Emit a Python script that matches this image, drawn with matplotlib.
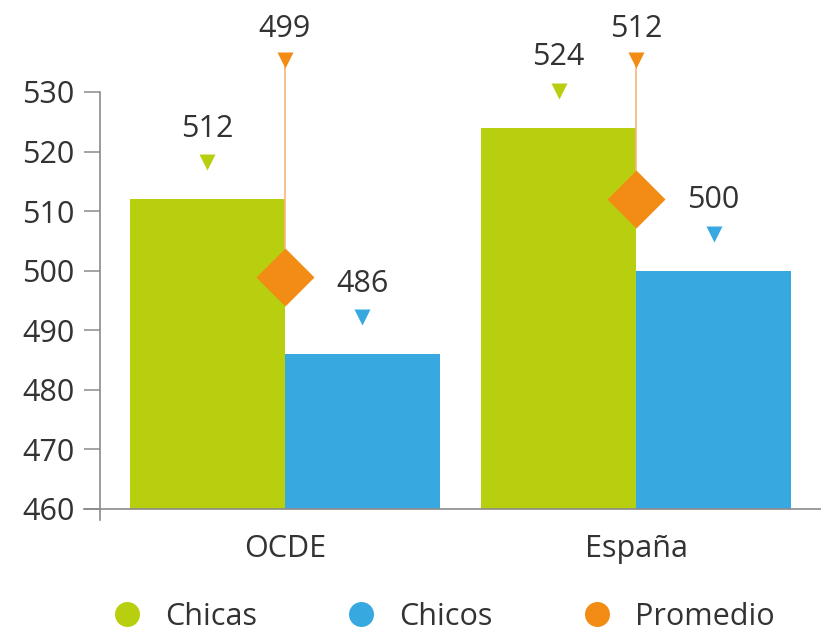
'''
Rendimiento por sexo: barras Chicas / Chicos con marcador de Promedio,
OCDE frente a España.
'''

# -----------------------------------------------------------------------------
# Modules

from matplotlib import pyplot as plt
from matplotlib.lines import Line2D

# -----------------------------------------------------------------------------
# Data

grupos = ['OCDE', 'España']
chicas = [512, 524]
chicos = [486, 500]
promedio = [499, 512]

etiquetas_chicas = ['512', '524']
etiquetas_chicos = ['486', '500']
etiquetas_promedio = ['499', '512']

y_ticks = [460, 470, 480, 490, 500, 510, 520, 530]

# -----------------------------------------------------------------------------

verde = '#b8cf10'
azul = '#37a9e0'
naranja = '#f28c14'
linea_naranja = '#f6b57c'
texto = '#333333'
gris = '#8a8a8a'

plt.rcParams['font.family'] = ['Open Sans', 'DejaVu Sans']
fs = 22

figure = plt.figure(figsize=(8.21, 6.33), dpi=100)
ax = figure.add_axes([100 / 821, 113 / 633, 721 / 821, 520 / 633])

ancho = 0.4416
x = list(range(len(grupos)))
x_chicas = [i - ancho / 2 for i in x]
x_chicos = [i + ancho / 2 for i in x]

ax.bar(x_chicas, [v - 460 for v in chicas], ancho, bottom=460, color=verde,
       zorder=2)
ax.bar(x_chicos, [v - 460 for v in chicos], ancho, bottom=460, color=azul,
       zorder=2)

tri_top = 535.3
ax.vlines(x, promedio, tri_top, color=linea_naranja, lw=1.2, zorder=3)
ax.plot(x, promedio, 'D', color=naranja, ms=30, mec='none', zorder=4)

# Triangulos y etiquetas
ax.plot(x_chicas, [v + 6.2 for v in chicas], 'v', color=verde, ms=12,
        mec='none', zorder=4)
ax.plot(x_chicos, [v + 6.2 for v in chicos], 'v', color=azul, ms=12,
        mec='none', zorder=4)
ax.plot(x, [tri_top] * len(x), 'v', color=naranja, ms=12, mec='none',
        zorder=4)

for xi, v, lab in zip(x_chicas, chicas, etiquetas_chicas):
    ax.text(xi, v + 11.8, lab, ha='center', va='center', fontsize=fs,
            color=texto)
for xi, v, lab in zip(x_chicos, chicos, etiquetas_chicos):
    ax.text(xi, v + 11.8, lab, ha='center', va='center', fontsize=fs,
            color=texto)
for xi, lab in zip(x, etiquetas_promedio):
    ax.text(xi, 540.5, lab, ha='center', va='center', fontsize=fs,
            color=texto)

# Ejes
ax.set_xlim(-0.527, 1.527)
ax.set_ylim(458.15, 545.44)
ax.set_yticks(y_ticks)
ax.set_yticklabels([str(t) for t in y_ticks])
ax.set_xticks(x)
ax.set_xticklabels(grupos)

for s in ['top', 'right', 'bottom']:
    ax.spines[s].set_visible(False)
ax.spines['left'].set_bounds(458.15, 530)
ax.spines['left'].set_color(gris)
ax.spines['left'].set_linewidth(1.2)

ax.tick_params(axis='y', length=11.5, width=1.1, color=gris, pad=7,
               labelsize=fs, labelcolor=texto)
ax.tick_params(axis='x', length=0, pad=10, labelsize=fs, labelcolor=texto)

ax.plot([-16 / 721, 1], [460, 460], color=gris, lw=1.2,
        transform=ax.get_yaxis_transform(), clip_on=False, zorder=5)

# Leyenda
handles = [Line2D([], [], ls='none', marker='o', ms=18, color=c, mec='none')
           for c in (verde, azul, naranja)]
figure.legend(handles, ['Chicas', 'Chicos', 'Promedio'], loc='center',
              bbox_to_anchor=(447 / 821, 16 / 633), ncol=3, frameon=False,
              fontsize=fs, handlelength=0.5, handletextpad=1.0,
              columnspacing=3.15, labelcolor=texto)

figure.savefig('out.png', dpi=100)
